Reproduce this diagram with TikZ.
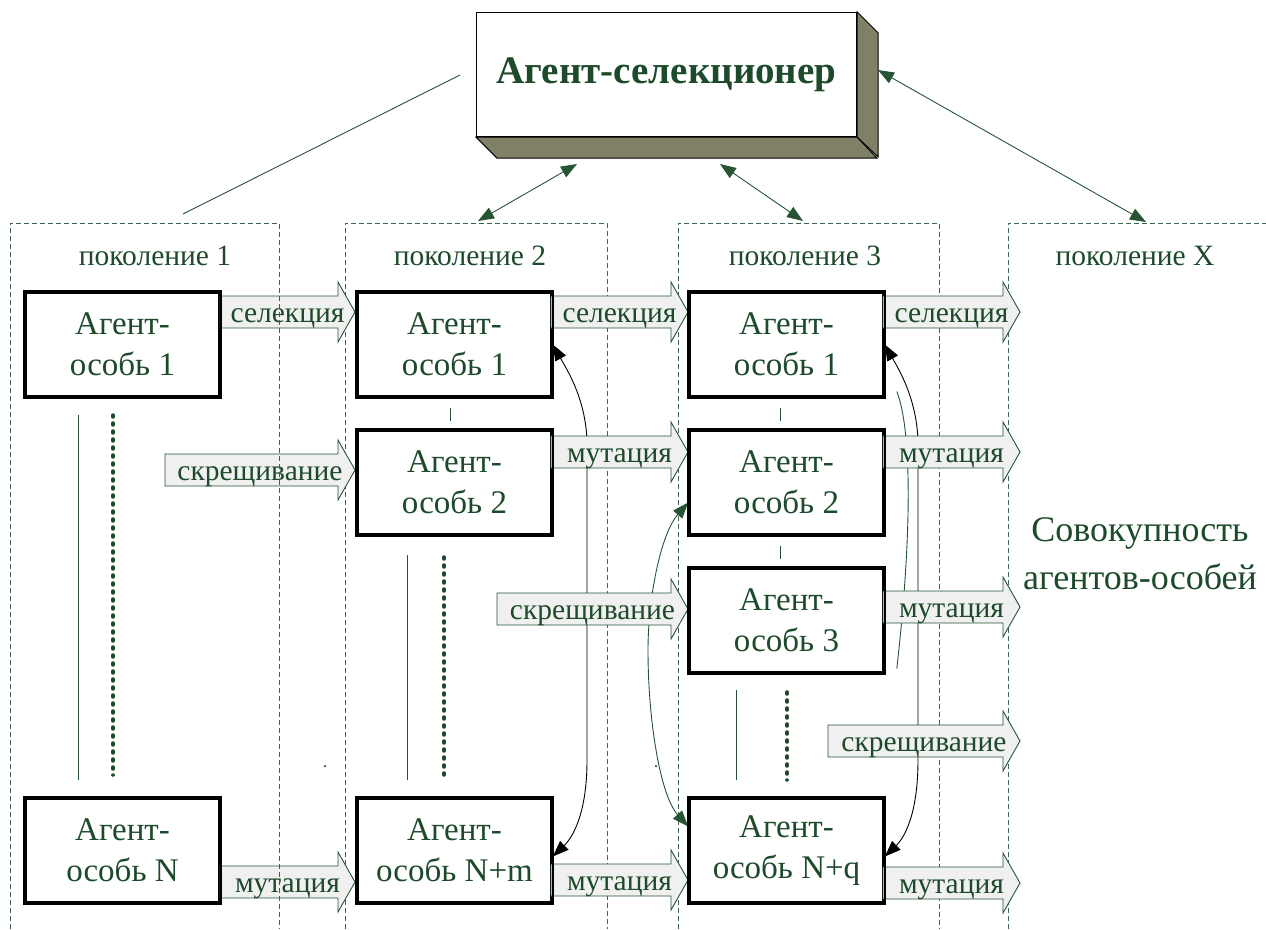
\documentclass[tikz,border=0pt]{standalone}
\usepackage{fontspec}
\setmainfont{Liberation Serif}
\usetikzlibrary{arrows.meta}

\definecolor{txtgreen}{RGB}{28,74,42}
\definecolor{lngreen}{RGB}{38,84,52}
\definecolor{dashgreen}{RGB}{60,100,76}
\definecolor{olive}{RGB}{128,128,102}
\definecolor{arrowfill}{RGB}{240,240,240}

\tikzset{
  agent/.style={draw=black, line width=2.6pt, fill=white,
    minimum width=194pt, minimum height=104pt, inner sep=0pt,
    align=center, text=txtgreen, font=\fontsize{33}{41}\selectfont},
  selectorbox/.style={draw=black, line width=1.2pt, fill=white,
    minimum width=380pt, minimum height=124pt, inner sep=0pt,
    text=txtgreen, font=\fontsize{39}{44}\selectfont\bfseries},
  face/.style={draw=black, line width=1pt, fill=olive},
  genframe/.style={draw=dashgreen, dash pattern=on 5pt off 3pt, line width=0.9pt},
  genlabel/.style={text=txtgreen, font=\fontsize{29.5}{34}\selectfont, inner sep=0pt, anchor=base},
  blockbody/.style={draw=lngreen, fill=arrowfill, line width=0.9pt},
  blocklabel/.style={text=txtgreen, font=\fontsize{29.5}{34}\selectfont, inner sep=0pt, anchor=base},
  link/.style={draw=lngreen, line width=0.9pt},
  linkboth/.style={link, {Triangle[length=16pt,width=12pt]}-{Triangle[length=16pt,width=12pt]}},
  loopblack/.style={draw=black, line width=0.9pt, {Triangle[length=16pt,width=12pt]}-{Triangle[length=16pt,width=12pt]}},
  loopgreen/.style={draw=lngreen, line width=0.9pt, {Triangle[length=16pt,width=12pt]}-{Triangle[length=16pt,width=12pt]}},
  thinline/.style={draw=lngreen, line width=0.9pt},
  dotline/.style={draw=txtgreen, line width=3.5pt, line cap=round, dash pattern=on 2pt off 6pt},
  sidetext/.style={text=txtgreen, font=\fontsize{36}{48}\selectfont, align=center, inner sep=0pt}
}

% block arrow: name, left x, tip x, centre y, label
\newcommand\flowarrow[5]{%
  \path[blockbody] (#2,#4-16) -- (#3-17,#4-16) -- (#3-17,#4-30) -- (#3,#4)
    -- (#3-17,#4+30) -- (#3-17,#4+16) -- (#2,#4+16) -- cycle;
  \node[blocklabel] (#1) at ({(#2+#3)/2},#4+10) {#5};}

\begin{document}
\begin{tikzpicture}[x=1pt,y=-1pt]
\useasboundingbox (0,0) rectangle (1266,929);

% generation frames (open at the bottom)
\draw[genframe] (345,929) -- (345,223) -- (607,223) -- (607,929);
\draw[genframe] (678,929) -- (678,223) -- (939,223) -- (939,929);
\draw[genframe] (1008,929) -- (1008,223) -- (1270,223);

\node[genlabel] (gen1) at (155,265) {поколение 1};
\node[genlabel] (gen2) at (470,265) {поколение 2};
\node[genlabel] (gen3) at (805,265) {поколение 3};
\node[genlabel] (genX) at (1135,265) {поколение X};

% agents
\node[agent] (a11) at (122.5,344.5) {Агент-\\особь 1};
\node[agent] (a1N) at (122.5,850.5) {Агент-\\особь N};
\node[agent] (a21) at (454.5,344.5) {Агент-\\особь 1};
\node[agent] (a22) at (454.5,482.5) {Агент-\\особь 2};
\node[agent] (a2N) at (454.5,850.5) {Агент-\\особь N+m};
\node[agent] (a31) at (786.5,344.5) {Агент-\\особь 1};
\node[agent] (a32) at (786.5,482.5) {Агент-\\особь 2};
\node[agent] (a33) at (786.5,620.5) {Агент-\\особь 3};
\node[agent] (a3N) at (786.5,850.5) {Агент-\\особь N+q};

% exchange loops inside generations 2 and 3
\draw[loopblack] (a21.east) .. controls (566,368) and (587,400) .. (587,445)
  -- (587,760) .. controls (587,815) and (572,838) .. ([yshift=-6pt]a2N.east);
\draw[loopblack] (a31.east) .. controls (898,368) and (918,400) .. (918,445)
  -- (918,760) .. controls (918,815) and (904,838) .. ([yshift=-6pt]a3N.east);
\draw[loopgreen] ([yshift=-20pt]a32.west) .. controls (660,535) and (648,600) .. (648,650)
  .. controls (648,720) and (660,795) .. ([yshift=24pt]a3N.west);
\draw[thinline] ([shift={(12pt,-47pt)}]a31.east) .. controls (912,430) and (912,535) .. ([shift={(12pt,-48pt)}]a33.east);

% vertical lines standing for the omitted agents
\draw[thinline] (78,415) -- (78,780);
\draw[dotline] (113,415) -- (113,775);
\draw[thinline] (a21.south) ++(-4,10) -- ++(0,13);
\draw[thinline] (407,555) -- (407,780);
\draw[dotline] (444,557) -- (444,775);
\draw[thinline] (a31.south) ++(-6,10) -- ++(0,13);
\draw[thinline] (a32.south) ++(-6,10) -- ++(0,13);
\draw[thinline] (736,690) -- (736,780);
\draw[dotline] (787,692) -- (787,780);
\fill[black] (325,766) circle (1pt);
\fill[black] (656,766) circle (1pt);

% operators between generations
\flowarrow{sel1}{220}{355}{312}{селекция}
\flowarrow{sel2}{551}{688}{312}{селекция}
\flowarrow{sel3}{883}{1020}{312}{селекция}
\flowarrow{cross1}{165}{355}{470}{скрещивание}
\flowarrow{mut2a}{551}{688}{452}{мутация}
\flowarrow{mut3a}{883}{1020}{452}{мутация}
\flowarrow{cross2}{497}{688}{609}{скрещивание}
\flowarrow{mut3b}{883}{1020}{607}{мутация}
\flowarrow{cross3}{828}{1020}{741}{скрещивание}
\flowarrow{mut1}{220}{355}{882}{мутация}
\flowarrow{mut2b}{551}{688}{880}{мутация}
\flowarrow{mut3c}{883}{1020}{883}{мутация}

% first generation frame
\draw[genframe] (10,929) -- (10,223) -- (279,223) -- (279,929);

% re-draw agent borders over the arrow ends
\foreach \n in {a11,a1N,a21,a22,a2N,a31,a32,a33,a3N}
  \draw[black, line width=2.6pt] (\n.north west) rectangle (\n.south east);

\node[sidetext] (pool) at (1140,554) {Совокупность\\агентов-особей};

% selector agent with its 3D faces
\node[selectorbox] (selector) at (666.5,74.5) {Агент-селекционер};
\draw[face] (selector.north east) -- ++(21,21) -- ++(0,124) -- (selector.south east) -- cycle;
\draw[face] (selector.south west) -- ++(21,21) -- ++(380,0) -- (selector.south east) -- cycle;

\coordinate (selL) at (460,75);
\coordinate (selB1) at (577,164);
\coordinate (selB2) at (720,164);
\coordinate (selR) at (878,70);
\coordinate (top1) at (183,214);
\coordinate (top2) at (478,221);
\coordinate (top3) at (803,221);
\coordinate (topX) at (1146,222);

\draw[link] (selL) -- (top1);
\draw[linkboth] (selB1) -- (top2);
\draw[linkboth] (selB2) -- (top3);
\draw[linkboth] (selR) -- (topX);
\end{tikzpicture}
\end{document}
